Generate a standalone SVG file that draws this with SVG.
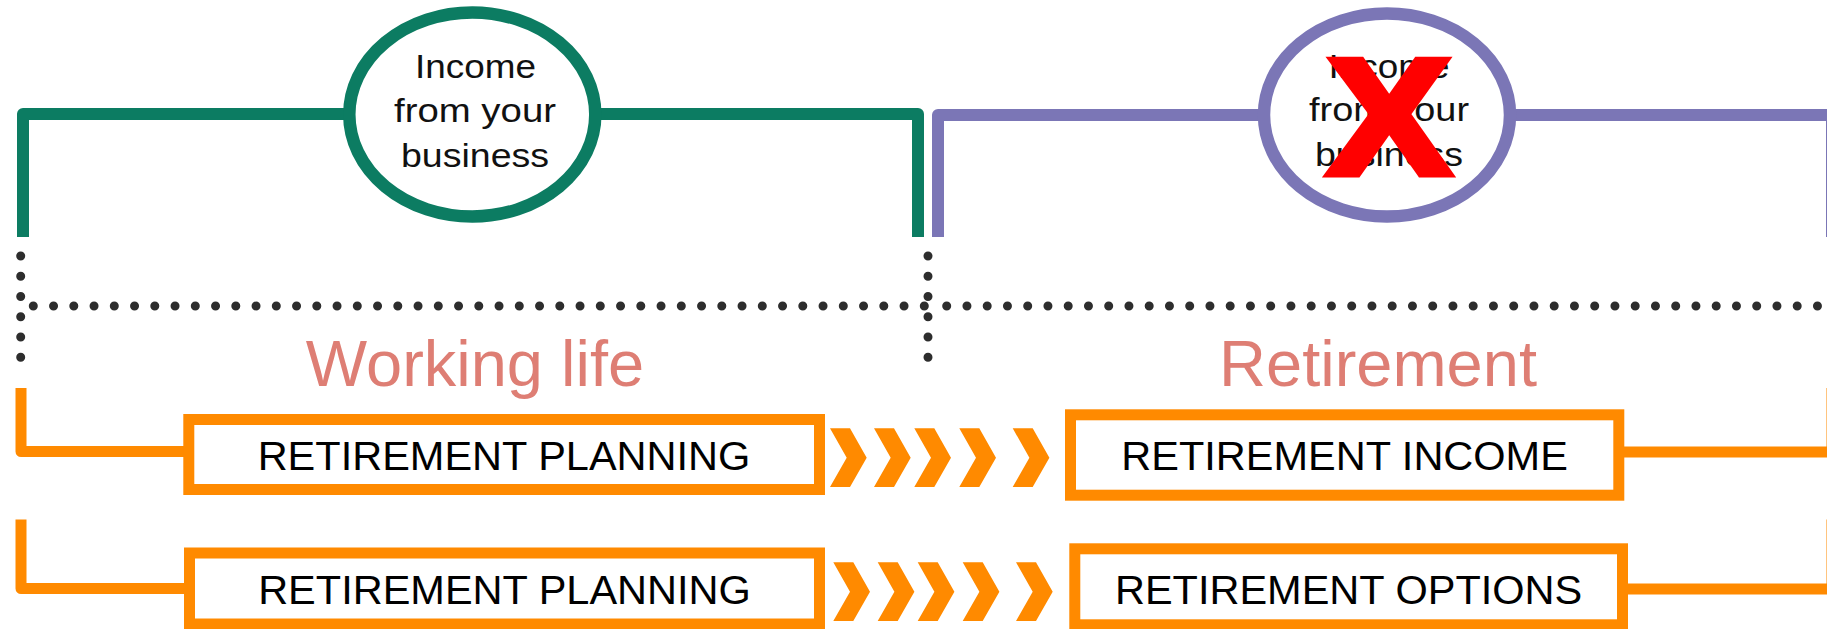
<svg xmlns="http://www.w3.org/2000/svg" xmlns:xlink="http://www.w3.org/1999/xlink" width="1827" height="629" viewBox="0 0 1827 629">
  <style>
    .bg { fill: #ffffff; }
    .green { fill: none; stroke: #0c7c62; stroke-width: 12; stroke-linejoin: round; }
    .purple { fill: none; stroke: #7b76b6; stroke-width: 12; stroke-linejoin: round; }
    .orange { fill: none; stroke: #ff8a00; stroke-width: 11; stroke-linejoin: round; }
    .box { fill: #ffffff; stroke: #ff8a00; stroke-width: 11; }
    .ring-g { fill: #ffffff; stroke: #0c7c62; stroke-width: 12.5; }
    .ring-p { fill: #ffffff; stroke: #7b76b6; stroke-width: 12.5; }
    .dots { fill: none; stroke: #2d2d2d; stroke-width: 9; stroke-linecap: round; stroke-dasharray: 0 20.25; }
    .chev { fill: #ff8a00; }
    .circ-text { font-family: "Liberation Sans", Arial, sans-serif; font-size: 34px; fill: #111111; text-anchor: middle; }
    .phase { font-family: "Liberation Sans", Arial, sans-serif; font-size: 65px; fill: #de7e74; text-anchor: middle; }
    .box-text { font-family: "Liberation Sans", Arial, sans-serif; font-size: 41.5px; fill: #000000; text-anchor: middle; }
    .cross { font-family: "Liberation Sans", Arial, sans-serif; font-weight: bold; font-size: 165px; fill: #ff0000; stroke: #ff0000; stroke-width: 7; stroke-linejoin: miter; text-anchor: middle; }
  </style>
  <defs>
    <polygon id="chevron" points="0,0 20,0 36.7,29.4 20,58.8 0,58.8 16.7,29.4"/>
  </defs>
  <rect class="bg" x="0" y="0" width="1827" height="629"/>

  <g id="connectors">
    <!-- green bracket -->
    <path class="green" d="M 23 237 V 114 H 350"/>
    <path class="green" d="M 596 114 H 918 V 237"/>
    <!-- purple bracket -->
    <path class="purple" d="M 938 237 V 115 H 1265"/>
    <path class="purple" d="M 1510 115 H 1832 V 237"/>
    <!-- dotted dividers -->
    <line class="dots" x1="20.7" y1="256" x2="20.7" y2="358"/>
    <line class="dots" x1="928" y1="256" x2="928" y2="358"/>
    <line class="dots" x1="33.3" y1="306" x2="926" y2="306"/>
    <line class="dots" x1="946.7" y1="306" x2="1818" y2="306"/>
    <!-- orange brackets -->
    <path class="orange" d="M 21 388 V 451.5 H 190"/>
    <path class="orange" d="M 21 519.5 V 588.5 H 190"/>
    <path class="orange" d="M 1620 452 H 1832 V 388"/>
    <path class="orange" d="M 1624 589 H 1832 V 519.5"/>
    <!-- chevrons row 1 -->
    <use xlink:href="#chevron" href="#chevron" class="chev" x="830" y="428.3"/>
    <use xlink:href="#chevron" href="#chevron" class="chev" x="874" y="428.3"/>
    <use xlink:href="#chevron" href="#chevron" class="chev" x="914.3" y="428.3"/>
    <use xlink:href="#chevron" href="#chevron" class="chev" x="959.3" y="428.3"/>
    <use xlink:href="#chevron" href="#chevron" class="chev" x="1012.7" y="428.3"/>
    <!-- chevrons row 2 -->
    <use xlink:href="#chevron" href="#chevron" class="chev" x="833.3" y="562.3"/>
    <use xlink:href="#chevron" href="#chevron" class="chev" x="877.7" y="562.3"/>
    <use xlink:href="#chevron" href="#chevron" class="chev" x="917.7" y="562.3"/>
    <use xlink:href="#chevron" href="#chevron" class="chev" x="962.7" y="562.3"/>
    <use xlink:href="#chevron" href="#chevron" class="chev" x="1016" y="562.3"/>
  </g>

  <g id="income-working">
    <ellipse class="ring-g" cx="472.3" cy="114.5" rx="123" ry="102"/>
    <text class="circ-text" x="475.5" y="78" textLength="121" lengthAdjust="spacingAndGlyphs">Income</text>
    <text class="circ-text" x="475" y="122" textLength="162" lengthAdjust="spacingAndGlyphs">from your</text>
    <text class="circ-text" x="475" y="166.5" textLength="148" lengthAdjust="spacingAndGlyphs">business</text>
  </g>

  <g id="income-retirement">
    <ellipse class="ring-p" cx="1387" cy="115" rx="123" ry="101.5"/>
    <text class="circ-text" x="1389" y="78" textLength="121" lengthAdjust="spacingAndGlyphs">Income</text>
    <text class="circ-text" x="1389" y="121" textLength="160" lengthAdjust="spacingAndGlyphs">from your</text>
    <text class="circ-text" x="1389" y="166" textLength="148" lengthAdjust="spacingAndGlyphs">business</text>
    <text class="cross" transform="translate(1389 173.8) scale(1.12 1)" x="0" y="0">X</text>
  </g>

  <g id="label-working">
    <text class="phase" x="475" y="386">Working life</text>
  </g>
  <g id="label-retirement">
    <text class="phase" x="1378" y="385.5">Retirement</text>
  </g>

  <g id="planning-1">
    <rect class="box" x="188.8" y="419.5" width="630.7" height="70"/>
    <text class="box-text" x="504" y="470">RETIREMENT PLANNING</text>
  </g>
  <g id="planning-2">
    <rect class="box" x="189.5" y="553" width="630" height="71"/>
    <text class="box-text" x="504.5" y="603.7">RETIREMENT PLANNING</text>
  </g>
  <g id="retirement-income">
    <rect class="box" x="1070.5" y="414.8" width="548.3" height="80.4"/>
    <text class="box-text" x="1344.6" y="470">RETIREMENT INCOME</text>
  </g>
  <g id="retirement-options">
    <rect class="box" x="1074.8" y="548.8" width="547.7" height="76"/>
    <text class="box-text" x="1348.6" y="603.7">RETIREMENT OPTIONS</text>
  </g>
</svg>
